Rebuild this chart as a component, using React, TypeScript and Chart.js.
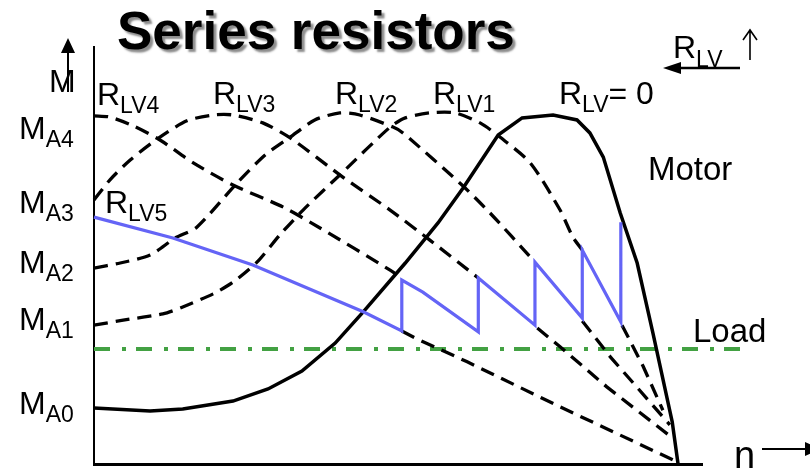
import React, { useEffect, useRef } from "react";
import { Chart, registerables } from "chart.js";

Chart.register(...registerables);

// ---- Data (n = speed in % of no-load speed, M = torque in % of axis height) ----
type P = [number, number];

// R_LV = 0 (motor characteristic)
const motorCurve: P[] = [
  [0, 13.4], [9.6, 12.7], [15.2, 13.2], [23.8, 15.1], [29.8, 18.0], [35.6, 22.3],
  [41.3, 29.0], [46.1, 36.5], [53.3, 48.2], [58.9, 57.8], [63.2, 66.2], [69.2, 78.9],
  [73.3, 83.0], [78.6, 83.7], [82.7, 82.5], [84.9, 79.4], [87.2, 73.6], [90.1, 60.2],
  [93.0, 48.2], [95.7, 31.4], [99.0, 10.1], [100, 0],
];

// Series-resistor characteristics (dashed)
const rlv1Curve: P[] = [
  [0, 33.3], [5.0, 34.5], [11.8, 36.0], [15.1, 37.6], [20.4, 40.8], [23.8, 43.6],
  [27.9, 48.4], [31.8, 54.9], [35.8, 60.9], [42.6, 70.0], [50.7, 80.8], [53.3, 83.0],
  [57.5, 84.2], [61.8, 84.2], [66.1, 81.8], [69.5, 78.4], [74.7, 72.2], [79.8, 60.9],
  [82.0, 54.4], [83.6, 51.3],
];
const rlv1Tail: P[] = [[90.4, 33.3], [94.0, 23.5], [97.4, 12.9]];

const rlv2Curve: P[] = [
  [0, 47.0], [4.5, 48.2], [9.6, 50.1], [13.9, 54.2], [17.6, 56.8], [24.5, 67.4],
  [29.3, 74.1], [33.6, 78.4], [37.8, 82.5], [42.1, 84.2], [45.5, 83.7], [51.2, 80.8],
  [52.9, 79.4], [63.0, 66.9], [67.8, 60.2], [75.2, 48.9],
];
const rlv2Tail: P[] = [[83.6, 34.3], [88.4, 25.7], [98.6, 9.4]];

const rlv3Curve: P[] = [
  [0, 63.3], [2.7, 68.1], [6.2, 72.9], [10.8, 77.9], [15.9, 82.3], [20.4, 83.7],
  [23.8, 83.7], [28.9, 81.8], [33.6, 78.2], [42.6, 68.8], [50.7, 60.9], [57.5, 53.7],
  [65.8, 44.6],
];
const rlv3Tail: P[] = [[75.9, 32.6], [79.8, 28.1], [87.8, 18.5], [99.1, 6.2]];

const rlv4Curve: P[] = [
  [0, 83.5], [2.7, 83.2], [6.7, 81.1], [11.3, 77.7], [17.0, 72.2], [23.8, 66.9],
  [32.4, 61.6], [38.7, 56.6], [50.7, 46.5], [52.9, 44.4],
];

const rlv5Tail: P[] = [[52.7, 31.9], [55.0, 30.2], [63.9, 24.5], [79.8, 13.7], [99.1, 1.0]];

// Start-up path (blue)
const startPath: P[] = [
  [0, 59.2], [13.5, 54.2], [27.2, 47.7], [46.1, 36.5], [52.7, 31.9],
  [52.7, 44.1], [56.3, 41.2], [65.8, 31.7],
  [65.8, 44.6], [75.5, 33.3],
  [75.5, 48.4], [83.6, 35.0],
  [83.6, 51.3], [90.2, 34.1],
  [90.2, 58.0],
];

// Load torque (constant)
const loadCurve: P[] = [[0, 27.6], [111, 27.6]];

const xMax = 104.1;
const yMax = 100;

const FONT = '"Liberation Sans", Arial, Helvetica, sans-serif';

const toXY = (arr: P[]) => arr.map(([x, y]) => ({ x, y }));

function subText(
  ctx: CanvasRenderingContext2D,
  x: number,
  y: number,
  main: string,
  sub: string,
  rest = "",
  size = 32,
  subSize = 23,
  subDrop = 8
) {
  ctx.font = `${size}px ${FONT}`;
  ctx.fillText(main, x, y);
  let w = ctx.measureText(main).width;
  ctx.font = `${subSize}px ${FONT}`;
  ctx.fillText(sub, x + w, y + subDrop);
  w += ctx.measureText(sub).width;
  if (rest) {
    ctx.font = `${size}px ${FONT}`;
    ctx.fillText(rest, x + w, y);
  }
}

const labelsPlugin = {
  id: "labels",
  afterDraw(chart: Chart) {
    const ctx = chart.ctx;
    ctx.save();
    ctx.fillStyle = "#000";
    ctx.strokeStyle = "#000";
    ctx.textBaseline = "alphabetic";
    ctx.textAlign = "left";

    // Title with shadow
    ctx.save();
    ctx.font = `bold 53px ${FONT}`;
    ctx.shadowColor = "rgba(120,120,120,0.85)";
    ctx.shadowOffsetX = 3;
    ctx.shadowOffsetY = 3;
    ctx.shadowBlur = 2;
    ctx.fillText("Series resistors", 117, 49);
    ctx.restore();

    // Y axis label with arrow
    ctx.font = `32px ${FONT}`;
    ctx.fillText("M", 49, 92);
    ctx.lineWidth = 2;
    ctx.beginPath();
    ctx.moveTo(68, 92);
    ctx.lineTo(68, 50);
    ctx.stroke();
    ctx.beginPath();
    ctx.moveTo(68, 38);
    ctx.lineTo(61, 53);
    ctx.lineTo(75, 53);
    ctx.closePath();
    ctx.fill();

    // Torque labels
    subText(ctx, 19, 139, "M", "A4");
    subText(ctx, 19, 213, "M", "A3");
    subText(ctx, 19, 273, "M", "A2");
    subText(ctx, 19, 330, "M", "A1");
    subText(ctx, 19, 414, "M", "A0");

    // Curve labels
    subText(ctx, 97, 105, "R", "LV4");
    subText(ctx, 213, 104, "R", "LV3");
    subText(ctx, 335, 104, "R", "LV2");
    subText(ctx, 433, 104, "R", "LV1");
    subText(ctx, 559, 104, "R", "LV", "= 0");
    subText(ctx, 105, 213, "R", "LV5");

    ctx.font = `33px ${FONT}`;
    ctx.fillText("Motor", 648, 180);
    ctx.fillText("Load", 693, 342);

    // n axis label
    ctx.font = `38px ${FONT}`;
    ctx.fillText("n", 734, 468);
    ctx.lineWidth = 2;
    ctx.beginPath();
    ctx.moveTo(762, 449);
    ctx.lineTo(810, 449);
    ctx.stroke();
    ctx.beginPath();
    ctx.moveTo(820, 449);
    ctx.lineTo(805, 442);
    ctx.lineTo(805, 456);
    ctx.closePath();
    ctx.fill();

    // R_LV increasing arrow (top right)
    subText(ctx, 673, 58, "R", "LV", "", 32, 23, 9);
    ctx.lineWidth = 2.5;
    ctx.beginPath();
    ctx.moveTo(678, 68);
    ctx.lineTo(740, 68);
    ctx.stroke();
    ctx.beginPath();
    ctx.moveTo(663, 68);
    ctx.lineTo(681, 62);
    ctx.lineTo(681, 74);
    ctx.closePath();
    ctx.fill();
    ctx.lineWidth = 1.6;
    ctx.beginPath();
    ctx.moveTo(750, 60);
    ctx.lineTo(750, 30);
    ctx.moveTo(743, 40);
    ctx.lineTo(750, 30);
    ctx.lineTo(757, 40);
    ctx.stroke();

    ctx.restore();
  },
};

export default function App() {
  const ref = useRef<HTMLCanvasElement | null>(null);

  useEffect(() => {
    if (!ref.current) return;
    const dashed = (data: P[], tension = 0.25) => ({
      data: toXY(data),
      borderColor: "#000",
      borderWidth: 3.3,
      borderDash: [14, 8],
      pointRadius: 0,
      showLine: true,
      tension,
      fill: false,
      clip: false as const,
    });
    const chart = new Chart(ref.current, {
      type: "scatter",
      data: {
        datasets: [
          {
            data: toXY(startPath),
            borderColor: "#6464f6",
            borderWidth: 3.2,
            pointRadius: 0,
            showLine: true,
            tension: 0,
            clip: false as const,
          },
          {
            data: toXY(motorCurve),
            borderColor: "#000",
            borderWidth: 3.5,
            pointRadius: 0,
            showLine: true,
            tension: 0,
            clip: false as const,
          },
          dashed(rlv1Curve),
          dashed(rlv1Tail, 0),
          dashed(rlv2Curve),
          dashed(rlv2Tail, 0),
          dashed(rlv3Curve),
          dashed(rlv3Tail, 0),
          dashed(rlv4Curve),
          dashed(rlv5Tail, 0),
          {
            data: toXY(loadCurve),
            borderColor: "#43a143",
            borderWidth: 4,
            borderDash: [16, 12, 4, 10],
            pointRadius: 0,
            showLine: true,
            tension: 0,
            clip: false as const,
          },
        ],
      },
      options: {
        animation: false,
        responsive: false,
        events: [],
        layout: { padding: { left: 94, top: 47, right: 108, bottom: 6 } },
        plugins: { legend: { display: false }, tooltip: { enabled: false }, title: { display: false } },
        scales: {
          x: {
            type: "linear",
            min: 0,
            max: xMax,
            ticks: { display: false },
            grid: { display: false, drawTicks: false },
            border: { display: true, color: "#000", width: 3 },
          },
          y: {
            type: "linear",
            min: 0,
            max: yMax,
            ticks: { display: false },
            grid: { display: false, drawTicks: false },
            border: { display: true, color: "#000", width: 2 },
          },
        },
      },
      plugins: [labelsPlugin],
    });
    return () => chart.destroy();
  }, []);

  return (
    <div style={{ position: "fixed", left: 0, top: 0, width: 810, height: 470, background: "#fff" }}>
      <canvas ref={ref} width={810} height={470} style={{ width: 810, height: 470 }} />
    </div>
  );
}
